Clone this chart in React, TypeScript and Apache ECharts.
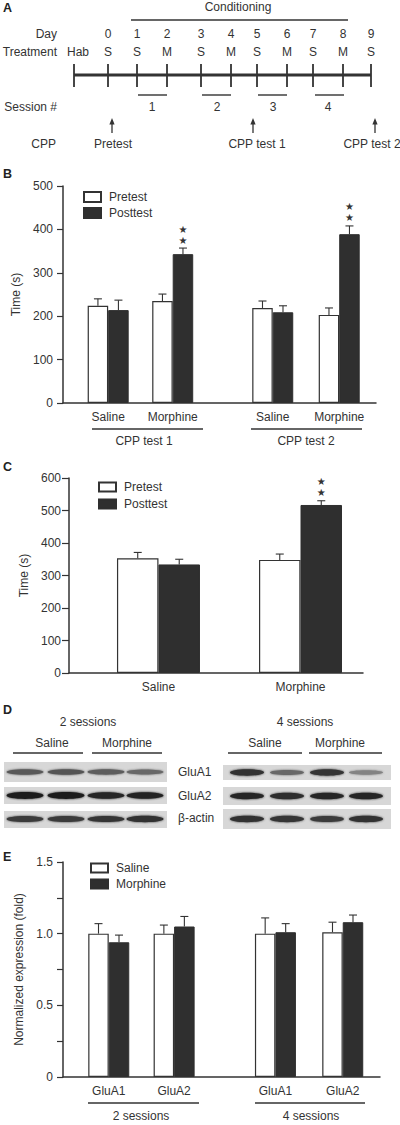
import React, { useEffect, useRef } from "react";
import * as echarts from "echarts";

// ---------- Panel A (timeline) ----------
const dayLabels = ["0", "1", "2", "3", "4", "5", "6", "7", "8", "9"];
const treatmentLabels = ["Hab", "S", "S", "M", "S", "M", "S", "M", "S", "M", "S"];
const sessionLabels = ["1", "2", "3", "4"];
const cppLabels = ["Pretest", "CPP test 1", "CPP test 2"];

// ---------- Panel B ----------
const bCategories = ["Saline", "Morphine", "Saline", "Morphine"];
const bGroups = ["CPP test 1", "CPP test 2"];
const bPretest = [224, 235, 219, 203];
const bPretestErr = [16, 16, 16, 16];
const bPosttest = [214, 343, 209, 389];
const bPosttestErr = [23, 14, 15, 19];
const bPostStars = [0, 2, 0, 2];
const bYTicks = [0, 100, 200, 300, 400, 500];

// ---------- Panel C ----------
const cCategories = ["Saline", "Morphine"];
const cPretest = [353, 348];
const cPretestErr = [18, 18];
const cPosttest = [334, 517];
const cPosttestErr = [16, 13];
const cPostStars = [0, 2];

// ---------- Panel D (blots: relative band intensity per lane) ----------
const dSessions = ["2 sessions", "4 sessions"];
const dLaneGroups = ["Saline", "Morphine"];
const dProteins = ["GluA1", "GluA2", "β-actin"];
const blot2 = [
  [0.68, 0.7, 0.66, 0.6],
  [1.0, 1.0, 0.96, 0.97],
  [0.85, 0.84, 0.87, 0.9],
];
const blot4 = [
  [0.9, 0.6, 0.88, 0.45],
  [0.95, 0.92, 0.95, 0.95],
  [0.9, 0.88, 0.85, 0.9],
];

// ---------- Panel E ----------
const eCategories = ["GluA1", "GluA2", "GluA1", "GluA2"];
const eGroups = ["2 sessions", "4 sessions"];
const eSaline = [1.0, 1.0, 1.0, 1.01];
const eSalineErr = [0.07, 0.06, 0.11, 0.07];
const eMorphine = [0.94, 1.05, 1.01, 1.08];
const eMorphineErr = [0.05, 0.07, 0.06, 0.05];

const FONT = "'Liberation Sans', Arial, Helvetica, sans-serif";
const INK = "#333";
const DARK = "#2f2f2f";

// layout slots on the hidden numeric category axes
const SLOTS4 = [0.7, 1.7, 3.25, 4.28];
const SLOTS4_MAX = 4.85;
const SLOTS2 = [0.63, 1.63];
const SLOTS2_MAX = 2.07;

function nearestIdx(arr: number[], v: number) {
  let best = 0;
  for (let i = 1; i < arr.length; i++) if (Math.abs(arr[i] - v) < Math.abs(arr[best] - v)) best = i;
  return best;
}

function errRender(offset: number) {
  return (params: any, api: any) => {
    const x = api.value(0);
    const v = api.value(1);
    const e = api.value(2);
    const s = api.value(3);
    const p0 = api.coord([x, v]);
    const p1 = api.coord([x, v + e]);
    const cx = p0[0] + offset;
    const children: any[] = [
      { type: "line", shape: { x1: cx, y1: p0[1], x2: cx, y2: p1[1] }, style: { stroke: INK, lineWidth: 1.1 } },
      { type: "line", shape: { x1: cx - 4, y1: p1[1], x2: cx + 4, y2: p1[1] }, style: { stroke: INK, lineWidth: 1.1 } },
    ];
    for (let k = 0; k < s; k++) {
      children.push({
        type: "text",
        x: cx,
        y: p1[1] - 8 - 11 * k,
        style: { text: "★", fontSize: 10, fill: INK, align: "center", verticalAlign: "middle", fontFamily: "DejaVu Sans" },
      });
    }
    return { type: "group", children };
  };
}

function txt(text: string, x: number, y: number, align = "center", extra: any = {}) {
  return {
    type: "text",
    x,
    y,
    silent: true,
    style: { text, fill: INK, fontSize: 12, fontFamily: FONT, align, verticalAlign: "middle", ...extra },
  };
}
function ln(x1: number, y1: number, x2: number, y2: number, w = 1.3) {
  return { type: "line", silent: true, shape: { x1, y1, x2, y2 }, style: { stroke: INK, lineWidth: w } };
}

function lerpGray(t: number) {
  const a = 214, b = 30;
  const c = Math.round(a + (b - a) * t);
  return `rgb(${c},${c},${c})`;
}

export default function App() {
  const ref = useRef<HTMLDivElement>(null);

  useEffect(() => {
    if (!ref.current) return;
    const chart = echarts.init(ref.current, undefined, { renderer: "svg" });

    const graphics: any[] = [];
    // panel letters
    [["A", 7.5], ["B", 174], ["C", 467], ["D", 710], ["E", 857]].forEach(([l, y]) =>
      graphics.push(txt(l as string, 3, y as number, "left", { fontWeight: "bold", fontSize: 12.5, fill: "#222" }))
    );

    // ---- Panel A ----
    const tickX = [74, 108, 137, 167, 201, 231, 257, 287, 313, 343, 371];
    graphics.push(txt("Conditioning", 238, 7));
    graphics.push(ln(131, 20, 348, 20, 1.4));
    graphics.push(txt("Day", 57, 34, "right"));
    dayLabels.forEach((d, i) => graphics.push(txt(d, tickX[i + 1], 34)));
    graphics.push(txt("Treatment", 57, 52, "right"));
    treatmentLabels.forEach((t, i) => graphics.push(txt(t, i === 0 ? 78 : tickX[i], 52)));
    graphics.push(ln(74, 75, 371, 75, 3));
    tickX.forEach((x) => graphics.push(ln(x, 64, x, 87, 1.8)));
    const sessX = [[138, 167], [202, 231], [258, 287], [315, 344]];
    const sessLabelX = [152, 217, 273, 328];
    graphics.push(txt("Session #", 57, 107, "right"));
    sessionLabels.forEach((s, i) => {
      graphics.push(ln(sessX[i][0], 95, sessX[i][1], 95, 1.4));
      graphics.push(txt(s, sessLabelX[i], 107));
    });
    const arrowX = [112, 253, 375];
    const cppX = [113, 257, 372];
    graphics.push(txt("CPP", 56, 144, "right"));
    cppLabels.forEach((c, i) => {
      const x = arrowX[i];
      graphics.push(ln(x, 123, x, 133, 1.3));
      graphics.push({ type: "polygon", silent: true, shape: { points: [[x, 118], [x - 2.6, 124.5], [x + 2.6, 124.5]] }, style: { fill: INK } });
      graphics.push(txt(c, cppX[i], 144));
    });

    // ---- Panel B group labels ----
    graphics.push(ln(92, 429, 203, 429, 1.3));
    graphics.push(ln(251, 429, 362, 429, 1.3));
    graphics.push(txt(bGroups[0], 144, 441));
    graphics.push(txt(bGroups[1], 306, 441));

    // ---- Panel D blots ----
    graphics.push(txt(dSessions[0], 88, 722));
    graphics.push(txt(dSessions[1], 305, 722));
    const laneHdr = [[13, 83, 52], [92, 162, 127], [228, 302, 265], [309, 382, 340]];
    laneHdr.forEach((h, i) => {
      graphics.push(txt(dLaneGroups[i % 2], h[2], 743));
      graphics.push(ln(h[0], 753, h[1], 753, 1.5));
    });
    const leftRows = [[762, 782, 772], [787, 804, 795.5], [811, 828, 819]];
    const rightRows = [[765, 780, 772.5], [787, 805, 796], [809, 829, 819]];
    const leftLanes = [25, 66, 106, 145];
    const rightLanes = [247, 287, 327, 366];
    const drawBlot = (x0: number, x1: number, rows: number[][], lanes: number[], data: number[][], halfW: number) => {
      rows.forEach((r, ri) => {
        graphics.push({ type: "rect", silent: true, shape: { x: x0, y: r[0], width: x1 - x0, height: r[1] - r[0] }, style: { fill: "#d7d7d7" } });
        lanes.forEach((lx, li) => {
          const t = data[ri][li];
          const col = lerpGray(t);
          graphics.push({
            type: "ellipse",
            silent: true,
            shape: { cx: lx, cy: r[2], rx: halfW, ry: 1.2 + 2.2 * t },
            style: { fill: col, shadowBlur: 2, shadowColor: col },
          });
        });
      });
    };
    drawBlot(4, 167, leftRows, leftLanes, blot2, 18.5);
    drawBlot(223, 391, rightRows, rightLanes, blot4, 17);
    dProteins.forEach((p, i) => graphics.push(txt(p, 178, [772, 796, 818][i], "left")));

    // ---- Panel E group labels ----
    graphics.push(ln(88, 1103, 199, 1103, 1.3));
    graphics.push(ln(255, 1103, 365, 1103, 1.3));
    graphics.push(txt(eGroups[0], 141, 1116));
    graphics.push(txt(eGroups[1], 311, 1116));

    const axisLine = { show: true, onZero: false, lineStyle: { color: INK, width: 1.5 } };
    const yTick = { show: true, length: 6, lineStyle: { color: INK, width: 1.2 } };
    const labelStyle = { color: INK, fontSize: 12, fontFamily: FONT };

    const catX = (grid: number, slots: number[], max: number, names: string[]) => ({
      type: "value",
      gridIndex: grid,
      min: 0,
      max,
      axisLine,
      axisTick: { show: false },
      splitLine: { show: false },
      axisLabel: {
        ...labelStyle,
        margin: 8,
        customValues: slots,
        formatter: (v: number) => names[nearestIdx(slots, v)],
      },
    });

    const pairs = (slots: number[], vals: number[]) => vals.map((v, i) => [slots[i], v]);
    const errs = (slots: number[], vals: number[], e: number[], s?: number[]) =>
      vals.map((v, i) => [slots[i], v, e[i], s ? s[i] : 0]);

    const whiteBar = { color: "#fff", borderColor: INK, borderWidth: 1.2 };
    const darkBar = { color: DARK, borderColor: DARK, borderWidth: 1 };

    const legendBase = {
      orient: "vertical",
      padding: 0,
      itemWidth: 17,
      icon: "rect",
      selectedMode: false,
      textStyle: { ...labelStyle, lineHeight: 12, padding: [0, 0, 0, 3] },
    };

    const option: any = {
      animation: false,
      textStyle: { fontFamily: FONT },
      grid: [
        { left: 63, top: 186, width: 313, height: 217 },
        { left: 69, top: 478, width: 294, height: 195 },
        { left: 63, top: 862, width: 317, height: 215 },
      ],
      xAxis: [
        catX(0, SLOTS4, SLOTS4_MAX, bCategories),
        catX(1, SLOTS2, SLOTS2_MAX, cCategories),
        catX(2, SLOTS4, SLOTS4_MAX, eCategories),
      ],
      yAxis: [
        {
          type: "value", gridIndex: 0, min: bYTicks[0], max: bYTicks[bYTicks.length - 1], interval: 100,
          name: "Time (s)", nameLocation: "middle", nameGap: 38, nameTextStyle: { ...labelStyle },
          axisLine, axisTick: yTick, splitLine: { show: false }, axisLabel: { ...labelStyle, margin: 10 },
        },
        {
          type: "value", gridIndex: 1, min: 0, max: 600, interval: 100,
          name: "Time (s)", nameLocation: "middle", nameGap: 37, nameTextStyle: { ...labelStyle },
          axisLine, axisTick: { ...yTick, length: 7 }, splitLine: { show: false }, axisLabel: { ...labelStyle, margin: 8 },
        },
        {
          type: "value", gridIndex: 2, min: 0, max: 1.5, interval: 0.5,
          name: "Normalized expression (fold)", nameLocation: "middle", nameGap: 34, nameTextStyle: { ...labelStyle, fontSize: 12 },
          axisLine, axisTick: yTick,
          minorTick: { show: true, splitNumber: 2, length: 6, lineStyle: { color: INK, width: 1.2 } },
          splitLine: { show: false },
          axisLabel: { ...labelStyle, margin: 10, formatter: (v: number) => (v === 0 ? "0" : v.toFixed(1)) },
        },
      ],
      legend: [
        { ...legendBase, left: 83, top: 191, itemHeight: 10, itemGap: 4, data: ["Pretest", "Posttest"] },
        { ...legendBase, left: 98, top: 481, itemHeight: 9, itemGap: 5, data: ["Pretest", "Posttest"] },
        { ...legendBase, left: 90, top: 862, itemHeight: 9, itemGap: 4, data: ["Saline", "Morphine"] },
      ],
      series: [
        // B
        { type: "bar", name: "Pretest", xAxisIndex: 0, yAxisIndex: 0, barWidth: 20.5, barGap: "0%", itemStyle: whiteBar, data: pairs(SLOTS4, bPretest) },
        { type: "bar", name: "Posttest", xAxisIndex: 0, yAxisIndex: 0, barWidth: 20.5, barGap: "0%", itemStyle: darkBar, data: pairs(SLOTS4, bPosttest) },
        { type: "custom", name: "bPreErr", xAxisIndex: 0, yAxisIndex: 0, renderItem: errRender(-10.25), data: errs(SLOTS4, bPretest, bPretestErr), z: 5 },
        { type: "custom", name: "bPostErr", xAxisIndex: 0, yAxisIndex: 0, renderItem: errRender(10.25), data: errs(SLOTS4, bPosttest, bPosttestErr, bPostStars), z: 5 },
        // C
        { type: "bar", name: "Pretest", xAxisIndex: 1, yAxisIndex: 1, barWidth: 41.5, barGap: "0%", itemStyle: whiteBar, data: pairs(SLOTS2, cPretest) },
        { type: "bar", name: "Posttest", xAxisIndex: 1, yAxisIndex: 1, barWidth: 41.5, barGap: "0%", itemStyle: darkBar, data: pairs(SLOTS2, cPosttest) },
        { type: "custom", name: "cPreErr", xAxisIndex: 1, yAxisIndex: 1, renderItem: errRender(-20.75), data: errs(SLOTS2, cPretest, cPretestErr), z: 5 },
        { type: "custom", name: "cPostErr", xAxisIndex: 1, yAxisIndex: 1, renderItem: errRender(20.75), data: errs(SLOTS2, cPosttest, cPosttestErr, cPostStars), z: 5 },
        // E
        { type: "bar", name: "Saline", xAxisIndex: 2, yAxisIndex: 2, barWidth: 20.5, barGap: "0%", itemStyle: whiteBar, data: pairs(SLOTS4, eSaline) },
        { type: "bar", name: "Morphine", xAxisIndex: 2, yAxisIndex: 2, barWidth: 20.5, barGap: "0%", itemStyle: darkBar, data: pairs(SLOTS4, eMorphine) },
        { type: "custom", name: "eSalErr", xAxisIndex: 2, yAxisIndex: 2, renderItem: errRender(-10.25), data: errs(SLOTS4, eSaline, eSalineErr), z: 5 },
        { type: "custom", name: "eMorErr", xAxisIndex: 2, yAxisIndex: 2, renderItem: errRender(10.25), data: errs(SLOTS4, eMorphine, eMorphineErr), z: 5 },
      ],
      graphic: { elements: graphics },
    };

    chart.setOption(option);
    return () => chart.dispose();
  }, []);

  return (
    <div
      ref={ref}
      style={{ position: "absolute", left: 0, top: 0, width: 400, height: 1125, background: "#fff" }}
    />
  );
}
